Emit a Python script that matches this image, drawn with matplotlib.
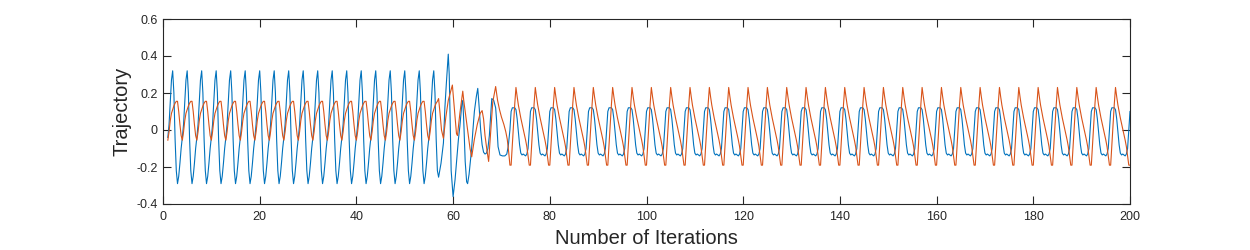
import numpy as np
import matplotlib
matplotlib.use('Agg')
from matplotlib import pyplot as plt

# one early cycle (period 3), offsets from the blue trough
early_t = [0, 0.25, 0.5, 0.75, 1.0, 1.25, 1.5, 1.75, 2.0, 2.25, 2.5, 2.75]
early_blue = [-0.29, -0.25, -0.18, -0.10, -0.04, 0.03, 0.15, 0.27, 0.32, 0.20, -0.05, -0.22]
early_orange = [0.155, 0.10, 0.03, -0.03, -0.055, -0.01, 0.05, 0.09, 0.11, 0.13, 0.145, 0.155]

# transient between the two regimes
trans_x_blue = [57.0, 57.5, 58.0, 58.3, 58.6, 59.0, 59.2, 59.6, 60.0, 60.4, 60.75, 61.1,
                61.4, 61.8, 62.0, 62.2, 62.5, 62.8, 63.0, 63.3, 63.5, 63.8, 64.1, 64.4,
                64.8, 65.1, 65.4, 65.7, 66.0, 66.3, 66.6, 66.9, 67.2, 67.5, 67.8, 68.0,
                68.4, 68.8, 69.0, 69.3, 69.7, 70.2, 70.7, 71.1, 71.4]
trans_blue = [-0.255, -0.18, -0.07, 0.12, 0.25, 0.41, 0.30, -0.22, -0.36, -0.27, -0.16, -0.05,
              0.02, 0.14, 0.16, 0.05, -0.17, -0.28, -0.29, -0.24, -0.19, -0.11, 0.0, 0.10,
              0.18, 0.225, 0.12, 0.0, -0.08, -0.12, -0.13, -0.125, -0.10, -0.03, 0.09, 0.17,
              0.16, 0.12, 0.05, -0.09, -0.135, -0.14, -0.14, -0.13, -0.09]
trans_x_orange = [57.0, 57.3, 57.6, 58.0, 58.5, 59.0, 59.85, 60.3, 60.7, 60.9, 61.4, 62.0,
                  62.2, 62.5, 63.0, 63.5, 63.85, 64.4, 65.0, 65.6, 66.0, 66.3, 66.6, 67.0,
                  67.35, 67.8, 68.2, 68.8, 69.2, 69.6, 70.0, 70.5, 70.9, 71.2, 71.5]
trans_orange = [0.17, 0.09, 0.0, -0.045, 0.07, 0.16, 0.243, 0.10, -0.02, -0.03, 0.09, 0.21,
                0.16, 0.10, 0.0, -0.10, -0.145, -0.05, 0.03, 0.09, 0.105, 0.06, -0.03, -0.11,
                -0.17, 0.0, 0.15, 0.235, 0.16, 0.11, 0.07, 0.03, -0.01, -0.05, -0.12]

# one steady cycle (period 4), offsets from the blue rising edge
steady_s = [0, 0.25, 0.5, 0.75, 1.0, 1.25, 1.5, 1.75, 2.0, 2.25, 2.5, 2.75, 3.0, 3.25, 3.5, 3.75]
steady_blue = [0.0, 0.10, 0.12, 0.12, 0.12, 0.11, 0.06, -0.01, -0.08, -0.125, -0.135, -0.13,
               -0.135, -0.14, -0.13, -0.10]
steady_orange = [-0.19, -0.19, -0.08, 0.03, 0.14, 0.23, 0.18, 0.135, 0.10, 0.065, 0.035, 0.005,
                 -0.025, -0.055, -0.09, -0.14]

x_ticks = list(range(0, 201, 20))
y_ticks = [-0.4, -0.2, 0, 0.2, 0.4, 0.6]
y_ticklabels = ['-0.4', '-0.2', '0', '0.2', '0.4', '0.6']

early_period, early_start, early_end = 3, 1, 57
steady_period, steady_start, steady_end = 4, 71.75, 200


def build(t, v, period, start, end):
    xs, ys = [], []
    k = int(np.floor(start / period)) - 1
    while k * period <= end:
        for ti, vi in zip(t, v):
            xv = k * period + ti
            if start <= xv < end:
                xs.append(xv)
                ys.append(vi)
        k += 1
    return xs, ys


def build_steady(t, v):
    xs, ys = [], []
    k = 0
    while True:
        done = False
        for ti, vi in zip(t, v):
            xv = steady_start + k * steady_period + ti
            if xv > steady_end:
                done = True
                break
            xs.append(xv)
            ys.append(vi)
        if done:
            break
        k += 1
    return xs, ys


ebx, eby = build(early_t, early_blue, early_period, early_start, early_end)
eox, eoy = build(early_t, early_orange, early_period, early_start, early_end)
sbx, sby = build_steady(steady_s, steady_blue)
sox, soy = build_steady(steady_s, steady_orange)

blue_x = ebx + trans_x_blue + sbx
blue_y = eby + trans_blue + sby
orange_x = eox + trans_x_orange + sox
orange_y = eoy + trans_orange + soy

plt.rcParams['font.family'] = ['Liberation Sans', 'DejaVu Sans']
dark = '#262626'

fig = plt.figure(figsize=(12.5, 2.5), dpi=100)
ax = fig.add_axes([163 / 1250, 1 - 204 / 250, (1130 - 163) / 1250, (204 - 19) / 250])
ax.plot(blue_x, blue_y, color='#0072BD', lw=0.8)
ax.plot(orange_x, orange_y, color='#D95319', lw=0.8)

ax.set_xlim(0, 200)
ax.set_ylim(-0.4, 0.6)
ax.set_xticks(x_ticks)
ax.set_yticks(y_ticks)
ax.set_yticklabels(y_ticklabels)
ax.tick_params(direction='in', length=5.8, width=0.8, color=dark, labelcolor=dark,
               labelsize=9, top=True, right=True)
ax.tick_params(axis='x', pad=5)
ax.tick_params(axis='y', pad=4)
for sp in ax.spines.values():
    sp.set_color(dark)
    sp.set_linewidth(0.8)

ax.set_xlabel('Number of Iterations', fontsize=14.5, color=dark, labelpad=4)
ax.set_ylabel('Trajectory', fontsize=14.5, color=dark, labelpad=3)

plt.savefig('out.png', dpi=100)
plt.close()
